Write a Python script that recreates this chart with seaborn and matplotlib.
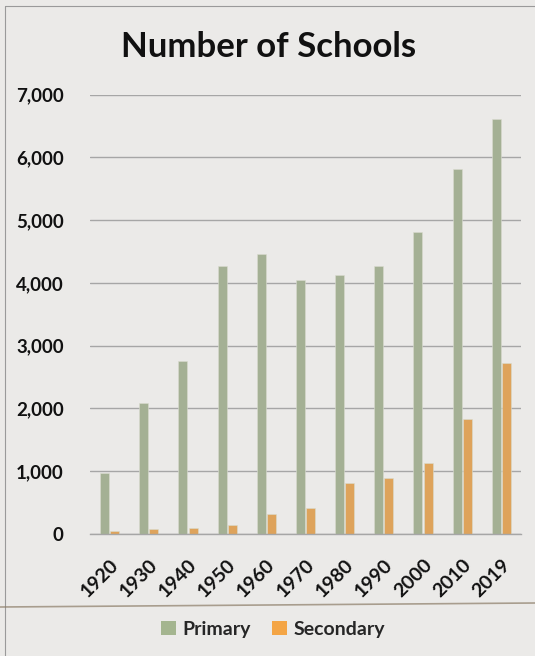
import pandas as pd
import seaborn as sns
import matplotlib.pyplot as plt
from matplotlib.lines import Line2D
from matplotlib.patches import Patch
from matplotlib.ticker import FuncFormatter

years = ['1920', '1930', '1940', '1950', '1960', '1970', '1980', '1990', '2000', '2010', '2019']
primary = [963, 2080, 2754, 4274, 4461, 4046, 4121, 4265, 4807, 5817, 6614]
secondary = [43, 75, 96, 134, 314, 405, 809, 893, 1128, 1825, 2718]
series = ['Primary', 'Secondary']
colors = {'Primary': '#a4b58f', 'Secondary': '#f4a545'}

# Long format for seaborn.
df = pd.concat([
    pd.DataFrame({'year': years, 'count': primary, 'type': 'Primary'}),
    pd.DataFrame({'year': years, 'count': secondary, 'type': 'Secondary'}),
], ignore_index=True)

sns.set_theme(style='white')
plt.rcParams['font.family'] = ['Lato', 'DejaVu Sans']
plt.rcParams['font.weight'] = 'bold'

W, H = 535, 656
fig = plt.figure(figsize=(W / 100, H / 100), dpi=100)
fig.patch.set_facecolor('#ebeae8')
ax = fig.add_axes([90 / W, 1 - 533.7 / H, (521 - 90) / W, (533.7 - 94.7) / H])
ax.set_facecolor('none')

sns.barplot(data=df, x='year', y='count', hue='type', order=years, hue_order=series,
            palette=colors, width=0.52, gap=0.12, ax=ax, legend=False,
            edgecolor='#d9dccf', linewidth=0.4)

ax.set_ylim(0, 7000)
ax.set_yticks(range(0, 7001, 1000))
ax.yaxis.set_major_formatter(FuncFormatter(lambda v, _: f'{int(v):,}'))
ax.grid(axis='y', color='#a6a6a6', linewidth=1)
ax.set_axisbelow(True)
for s in ['top', 'right', 'left']:
    ax.spines[s].set_visible(False)
ax.spines['bottom'].set_color('#a6a6a6')
ax.spines['bottom'].set_linewidth(1)
ax.set_xlabel('')
ax.set_ylabel('')
ax.tick_params(axis='y', length=0, pad=19, labelsize=13.5, labelcolor='#111111')
ax.tick_params(axis='x', length=0, pad=16, labelsize=14, labelcolor='#111111')
for lab in ax.get_xticklabels():
    lab.set_rotation(45)
    lab.set_ha('right')
    lab.set_va('top')
    lab.set_rotation_mode('anchor')
    lab.set_fontweight('bold')
for lab in ax.get_yticklabels():
    lab.set_fontweight('bold')

fig.text(269 / W, 1 - 47 / H, 'Number of Schools', ha='center', va='center',
         fontsize=25, fontweight='bold', color='#111111')

handles = [Patch(facecolor=colors[s], edgecolor='none') for s in series]
fig.legend(handles, series, loc='center', bbox_to_anchor=(273 / W, 1 - 629 / H),
           ncol=2, frameon=False, handlelength=0.75, handleheight=0.75,
           handletextpad=0.35, columnspacing=1.1, prop={'weight': 'bold', 'size': 14})

# Paper border and crease.
fig.add_artist(Line2D([5 / W, 5 / W], [0, 1 - 6 / H], transform=fig.transFigure,
                      color='#9a9a9a', linewidth=0.8))
fig.add_artist(Line2D([5 / W, 1], [1 - 6 / H, 1 - 6 / H], transform=fig.transFigure,
                      color='#9a9a9a', linewidth=0.8))
fig.add_artist(Line2D([0, 1], [1 - 607 / H, 1 - 603 / H], transform=fig.transFigure,
                      color='#8c7d68', linewidth=1.2, alpha=0.7))

fig.savefig('out.png', dpi=100, facecolor=fig.get_facecolor())
